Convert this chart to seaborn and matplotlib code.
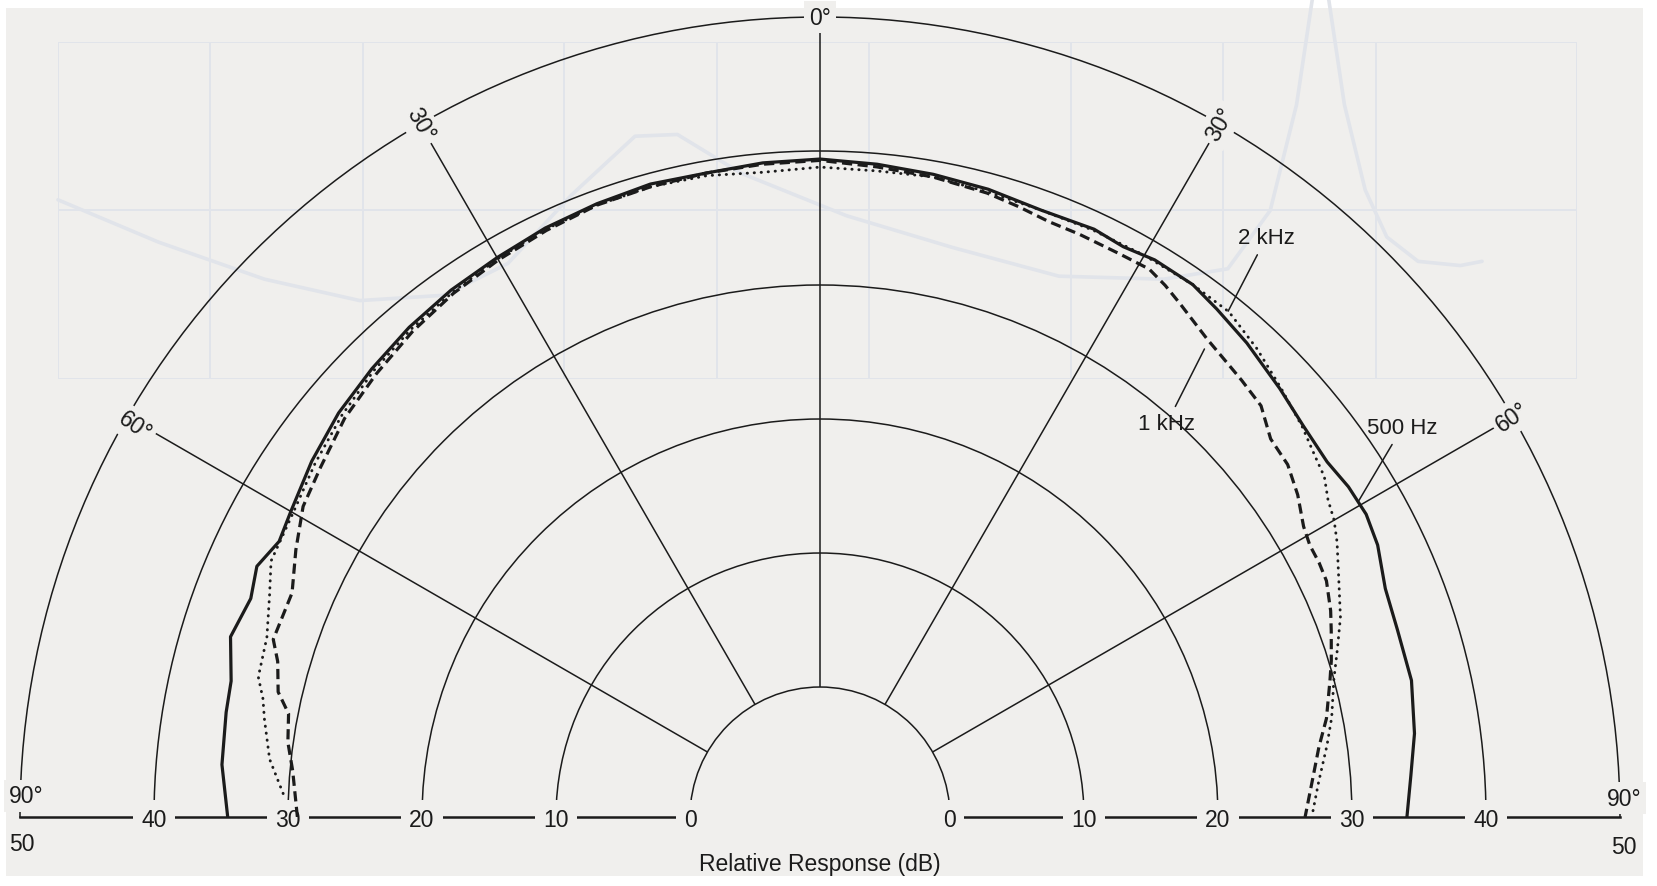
## Polar response of a loudspeaker at 500 Hz, 1 kHz, 2 kHz
import numpy as np
import matplotlib.pyplot as plt
import seaborn as sns
from matplotlib.patches import Rectangle

# 각도(deg) / 상대응답(dB) 데이터
ang_500 = [-90, -85, -80, -77, -73, -69, -66, -63, -60, -55, -50, -45, -40, -35, -30, -25, -20, -15, -10, -5, 0,
           5, 10, 15, 20, 25, 28, 31, 35, 38, 42, 47, 51, 55, 58, 61, 64, 68, 72, 77, 82, 86, 90]
db_500 = [34.5, 35.1, 35.3, 35.4, 36.3, 35.8, 36.3, 35.6, 35.9, 36.6, 37.2, 37.6, 38.0, 38.3, 38.5, 38.8, 39.0,
          39.2, 39.1, 39.3, 39.4,
          39.2, 39.0, 38.8, 38.5, 38.7, 38.5, 38.8, 38.8, 38.4, 37.9, 37.2, 36.7, 36.5, 36.8, 36.9, 36.6, 35.8,
          35.6, 35.6, 35.1, 34.5, 34.1]

ang_1k = [-90, -85, -82, -79, -77, -74, -72, -67, -63, -59, -55, -50, -45, -40, -35, -30, -25, -20, -15, -10, -5, 0,
          5, 10, 15, 18, 21, 24, 28, 31, 33, 35, 39, 42, 44, 47, 50, 53, 56, 59, 61, 63, 65, 68, 70, 73, 75, 79,
          82, 86, 90]
db_1k = [29.3, 29.8, 30.4, 30.7, 31.8, 32.4, 33.2, 33.1, 34.2, 35.3, 35.8, 36.6, 37.1, 37.6, 38.0, 38.3, 38.6,
         38.9, 39.0, 39.1, 39.2, 39.3,
         39.0, 38.8, 38.5, 38.2, 37.9, 37.9, 37.9, 38.0, 37.6, 37.1, 36.2, 35.8, 35.6, 35.3, 34.2, 34.0, 33.3,
         32.4, 32.1, 32.1, 32.0, 31.4, 30.9, 30.2, 29.7, 28.8, 27.9, 27.1, 26.5]

ang_2k = [-87.5, -84, -80, -78, -76, -72, -68, -65, -60, -55, -50, -45, -40, -35, -30, -25, -20, -15, -10, -5, 0,
          5, 10, 15, 20, 25, 30, 35, 39, 43, 47, 51, 54, 56, 58, 60, 62, 65, 69, 72, 75, 79, 82, 86, 90]
db_2k = [30.4, 31.6, 32.4, 32.8, 33.5, 33.7, 34.6, 35.5, 35.7, 36.3, 36.9, 37.4, 37.8, 38.1, 38.4, 38.7, 38.9,
         39.0, 38.9, 38.6, 38.8,
         38.7, 38.8, 38.6, 38.5, 38.6, 38.7, 38.8, 38.8, 38.1, 37.3, 36.6, 36.0, 35.7, 35.0, 34.6, 34.0, 33.0,
         31.9, 30.9, 30.0, 29.2, 28.5, 27.6, 27.0]

ring_db = [0, 10, 20, 30, 40]
spoke_deg = [-60, -30, 0, 30, 60]

# 뒷면에서 비치는 임피던스 곡선 (희미하게)
imp_freq = [20000, 12660, 7820, 5070, 3450, 2585, 1937, 1450, 1196, 896, 554, 342, 211, 131, 97.9, 80.7,
            71.6, 66.6, 61.9, 57.6, 52.4, 47.5, 41.2, 34.0, 30.8]
imp_ohm = [10.75, 8.05, 6.25, 5.40, 5.60, 6.96, 11.1, 16.6, 16.8, 12.9, 9.64, 7.76, 6.38, 6.25, 6.71, 10.0,
           20.6, 42.6, 42.6, 20.6, 11.5, 8.34, 7.06, 6.86, 7.06]
imp_fgrid = [20000, 10000, 5000, 2000, 1000, 500, 200, 100, 50, 20]
imp_zgrid = [3.16, 10, 31.6]

sns.set_theme(style='white')
plt.rcParams['font.family'] = ['Liberation Sans', 'DejaVu Sans']

paper = '#f0efed'
ink = '#1b1b1b'
faint = '#e1e4ea'
W, H = 1658, 887

fig = plt.figure(figsize=(W / 100, H / 100), dpi=100, facecolor='white')
fig.patches.append(Rectangle((6 / W, 10 / H), 1637 / W, 868 / H, transform=fig.transFigure,
                             facecolor=paper, edgecolor='none', zorder=-5))

# 희미한 배경 차트
bg = fig.add_axes([58 / W, (H - 380) / H, 1519 / W, 337 / H], zorder=1)
bg.set_facecolor('none')
bg.set_xscale('log')
bg.set_yscale('log')
for f in imp_fgrid:
    bg.axvline(f, color=faint, lw=1.4)
for z in imp_zgrid:
    bg.axhline(z, color=faint, lw=1.4)
sns.lineplot(x=imp_freq, y=imp_ohm, ax=bg, color=faint, lw=2.6, sort=False, clip_on=False)
bg.set_xlim(20000, 20)
bg.set_ylim(3.16, 31.6)
bg.set_xticks([])
bg.set_xticks([], minor=True)
bg.set_yticks([])
bg.set_yticks([], minor=True)
bg.set_xlabel('')
bg.set_ylabel('')
for s in bg.spines.values():
    s.set_visible(False)

# 극좌표 차트: 반원은 정사각형 박스 안에서 세로 가운데에 놓임
R = 800
cx, cy = 820, H - 818
ax = fig.add_axes([(cx - R) / W, (cy - R / 2) / H, 2 * R / W, 2 * R / H], projection='polar', zorder=2)
ax.set_facecolor('none')

sns.lineplot(x=np.deg2rad(ang_500), y=db_500, ax=ax, color=ink, lw=2.3, sort=False, zorder=5)
sns.lineplot(x=np.deg2rad(ang_1k), y=db_1k, ax=ax, color=ink, lw=2.3, sort=False, zorder=5,
             linestyle=(0, (3.2, 1.7)))
sns.lineplot(x=np.deg2rad(ang_2k), y=db_2k, ax=ax, color=ink, lw=2.1, sort=False, zorder=5,
             linestyle=(0, (0.1, 2.3)), dash_capstyle='round')

ax.set_theta_zero_location('N')
ax.set_theta_direction(-1)
ax.set_thetamin(-90)
ax.set_thetamax(90)
ax.set_rorigin(-9.7)
ax.set_rlim(0, 50)
ax.set_rgrids(ring_db[1:], labels=[''] * 4)
ax.set_thetagrids(spoke_deg, labels=[''] * 5)
ax.grid(True, color=ink, lw=1.1)
ax.set_xlabel('')
ax.set_ylabel('')
for name, s in ax.spines.items():
    s.set_color(ink)
    s.set_linewidth(1.8 if name in ('start', 'end') else 1.1)

fs = 16.5
box = dict(boxstyle='square,pad=0.35', fc=paper, ec='none')
box_s = dict(boxstyle='square,pad=0.2', fc=paper, ec='none')

# 기준선 눈금
for v in ring_db:
    for side in (-90, 90):
        ax.text(np.deg2rad(side), v, str(v), ha='center', va='center_baseline', fontsize=fs,
                color=ink, bbox=box, zorder=4)

# 각도 표시
ax.text(0, 50, '0°', ha='center', va='center', fontsize=fs, color=ink, bbox=box_s, zorder=4)
for deg, r, rot in [(-30, 50, -60), (30, 50, 60), (-60.3, 49.2, -35), (60, 50, 35)]:
    ax.text(np.deg2rad(deg), r, f'{abs(round(deg))}°', ha='center', va='center', rotation=rot,
            rotation_mode='anchor', fontsize=fs, color=ink, bbox=box_s, zorder=4)

ax.annotate('90°', xy=(np.deg2rad(-90), 50), xytext=(6, 21), textcoords='offset pixels',
            ha='center', va='center', fontsize=fs, color=ink, bbox=box_s, annotation_clip=False)
ax.annotate('50', xy=(np.deg2rad(-90), 50), xytext=(2, -27), textcoords='offset pixels',
            ha='center', va='center', fontsize=fs, color=ink, annotation_clip=False)
ax.annotate('90°', xy=(np.deg2rad(90), 50), xytext=(4, 19), textcoords='offset pixels',
            ha='center', va='center', fontsize=fs, color=ink, bbox=box_s, annotation_clip=False)
ax.annotate('50', xy=(np.deg2rad(90), 50), xytext=(4, -29), textcoords='offset pixels',
            ha='center', va='center', fontsize=fs, color=ink, annotation_clip=False)

# 곡선 이름표
lead = dict(arrowstyle='-', color=ink, lw=1.1, shrinkA=3, shrinkB=0)
ax.annotate('2 kHz', xy=(np.deg2rad(38.9), 38.8), xytext=(np.deg2rad(37.6), 44.9), textcoords='data',
            ha='center', va='center', fontsize=16, color=ink, arrowprops=lead)
ax.annotate('1 kHz', xy=(np.deg2rad(39.4), 35.5), xytext=(np.deg2rad(41.4), 29.4), textcoords='data',
            ha='center', va='center', fontsize=16, color=ink, arrowprops=lead)
ax.annotate('500 Hz', xy=(np.deg2rad(59.6), 36.9), xytext=(np.deg2rad(56.2), 42.6), textcoords='data',
            ha='center', va='center', fontsize=16, color=ink, arrowprops=lead)

fig.text(820 / W, (H - 865) / H, 'Relative Response (dB)', ha='center', va='center', fontsize=fs, color=ink)

plt.savefig('out.png', dpi=100, facecolor='white')
